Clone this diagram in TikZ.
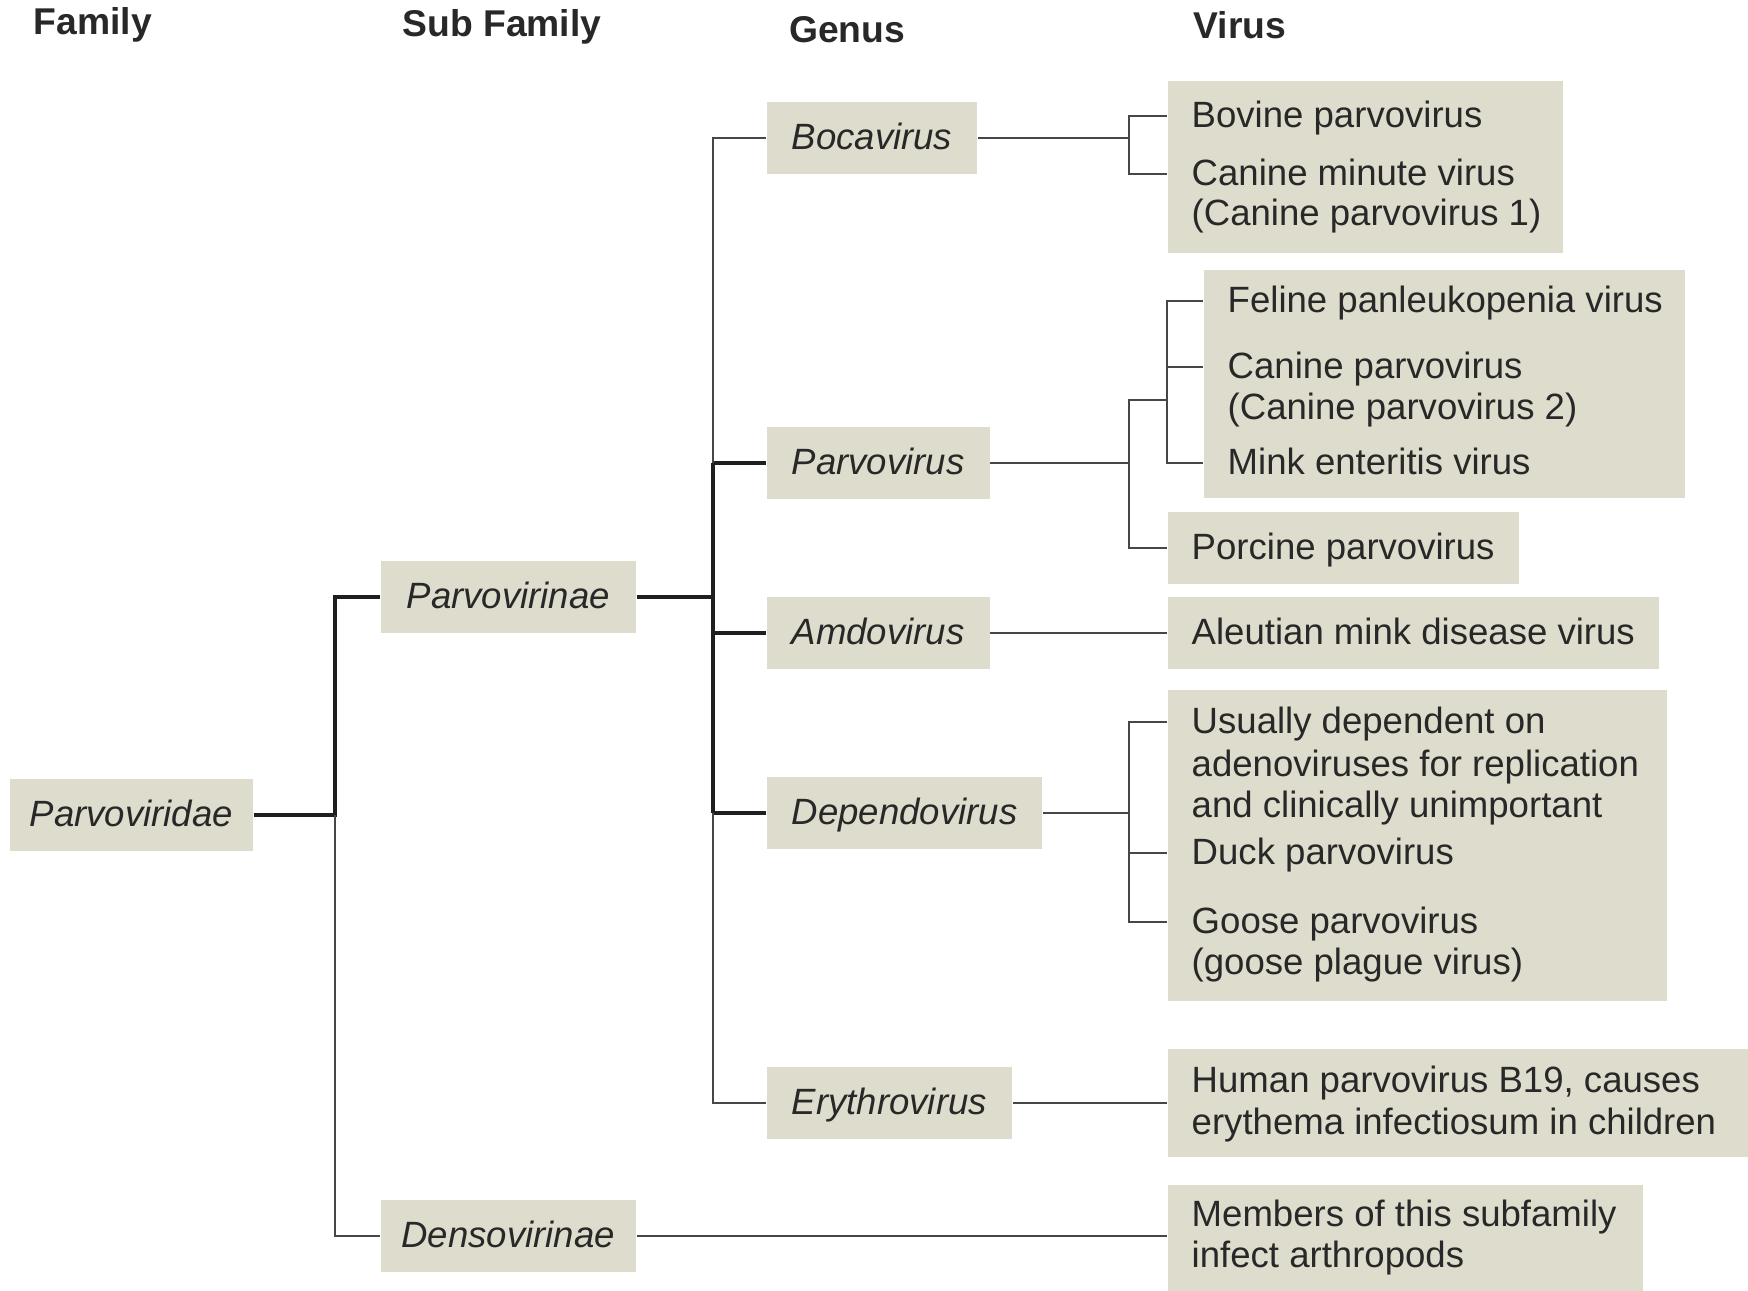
\documentclass[tikz,border=0pt]{standalone}
\usepackage{fontspec}
\setmainfont{Liberation Sans}
\definecolor{boxfill}{RGB}{222,220,204}
\definecolor{ink}{RGB}{40,40,40}

\begin{document}
\begin{tikzpicture}[x=0.01cm,y=-0.01cm,
    every node/.style={font=\fontsize{10.4}{12.6}\selectfont, text=ink},
    head/.style={font=\fontsize{10.6}{12.6}\selectfont\bfseries},
    taxon/.style={fill=boxfill, anchor=west, inner xsep=0.25cm, minimum height=0.72cm,
      font=\fontsize{10.4}{12.6}\selectfont\itshape, text height=1.5ex, text depth=.25ex},
    vname/.style={taxon, font=\fontsize{10.4}{12.6}\selectfont\upshape, inner xsep=0.24cm},
    vbox/.style={fill=boxfill, anchor=north west, inner sep=0pt},
    entry/.style={anchor=west, inner xsep=0.24cm, inner ysep=0pt, text height=1.5ex, text depth=.25ex},
    twig/.style={draw=black!72, line width=0.6pt},
    trunk/.style={draw=black!88, line width=1.2pt}]
  \useasboundingbox (0,0) rectangle (1748,1290);

  % column heads
  \node[head] (hFam) at (93,25) {Family};
  \node[head] (hSub) at (502,27) {Sub Family};
  \node[head] (hGen) at (847,30) {Genus};
  \node[head] (hVir) at (1240,25) {Virus};

  % family, subfamilies, genera
  \node[taxon, inner xsep=0.2cm] (fam) at (9,815) {Parvoviridae};
  \node[taxon, minimum width=2.55cm, inner xsep=0.2cm] (parvin) at (380,597) {Parvovirinae};
  \node[taxon, minimum width=2.55cm, inner xsep=0.2cm] (densin) at (380,1236) {Densovirinae};
  \node[taxon] (boca) at (766,138) {Bocavirus};
  \node[taxon] (parvo) at (766,463) {Parvovirus};
  \node[taxon] (amdo) at (766,633) {Amdovirus};
  \node[taxon] (depend) at (766,813) {Dependovirus};
  \node[taxon] (erythro) at (766,1103) {Erythrovirus};

  % virus boxes
  \node[vbox, minimum width=3.95cm, minimum height=1.72cm] (bocaV) at (1167,80) {};
  \node[vbox, minimum width=4.81cm, minimum height=2.28cm] (parvoV) at (1203,269) {};
  \node[vbox, minimum width=4.99cm, minimum height=3.11cm] (dependV) at (1167,689) {};
  \node[vbox, minimum width=5.81cm, minimum height=1.08cm] (eryV) at (1167,1048) {};
  \node[vbox, minimum width=4.75cm, minimum height=1.06cm] (densV) at (1167,1184) {};

  \node[entry] (bov) at (1167,116) {Bovine parvovirus};
  \node[entry] (cmv) at (1167,174) {Canine minute virus};
  \node[entry] (cmv2) at (1167,214) {(Canine parvovirus 1)};
  \node[entry] (fpv) at (1203,301) {Feline panleukopenia virus};
  \node[entry] (cpv) at (1203,367) {Canine parvovirus};
  \node[entry] (cpv2) at (1203,408) {(Canine parvovirus 2)};
  \node[entry] (mev) at (1203,463) {Mink enteritis virus};
  \node[vname] (ppv) at (1167,548) {Porcine parvovirus};
  \node[vname] (amdv) at (1167,633) {Aleutian mink disease virus};
  \node[entry] (aav) at (1167,722) {Usually dependent on};
  \node[entry] (aav2) at (1167,765) {adenoviruses for replication};
  \node[entry] (aav3) at (1167,806) {and clinically unimportant};
  \node[entry] (dpv) at (1167,853) {Duck parvovirus};
  \node[entry] (gpv) at (1167,922) {Goose parvovirus};
  \node[entry] (gpv2) at (1167,963) {(goose plague virus)};
  \node[entry] (b19) at (1167,1081) {Human parvovirus B19, causes};
  \node[entry] (b192) at (1167,1123) {erythema infectiosum in children};
  \node[entry] (arth) at (1167,1215) {Members of this subfamily};
  \node[entry] (arth2) at (1167,1256) {infect arthropods};

  % branch points
  \coordinate (jA) at (335,0);
  \coordinate (jB) at (713,0);
  \coordinate (jC) at (1129,0);
  \coordinate (pj) at (1167,400);

  \draw[trunk] (fam.east) -- (fam.east -| jA) |- (parvin.west);
  \draw[twig] (fam.east -| jA) |- (densin.west);
  \draw[trunk] (parvin.east) -- (parvin.east -| jB)
    (jB |- parvo.west) -- (jB |- depend.west)
    (jB |- parvo.west) -- (parvo.west)
    (jB |- amdo.west) -- (amdo.west)
    (jB |- depend.west) -- (depend.west);
  \draw[twig] (boca.west) -| (jB |- parvo.west)
    (jB |- depend.west) |- (erythro.west);

  \draw[twig] (boca.east) -- (boca.east -| jC)
    (bov.west) -| (jC |- cmv.west) -- (cmv.west);
  \draw[twig] (parvo.east) -- (parvo.east -| jC)
    (pj) -- (jC |- pj) |- (ppv.west)
    (fpv.west) -| (pj) |- (mev.west)
    (cpv.west) -- (cpv.west -| pj);
  \draw[twig] (amdo.east) -- (amdv.west);
  \draw[twig] (depend.east) -- (depend.east -| jC)
    (aav.west) -| (jC |- gpv.west) -- (gpv.west)
    (dpv.west) -- (dpv.west -| jC);
  \draw[twig] (erythro.east) -- (erythro.east -| eryV.west);
  \draw[twig] (densin.east) -- (densin.east -| densV.west);
\end{tikzpicture}
\end{document}
